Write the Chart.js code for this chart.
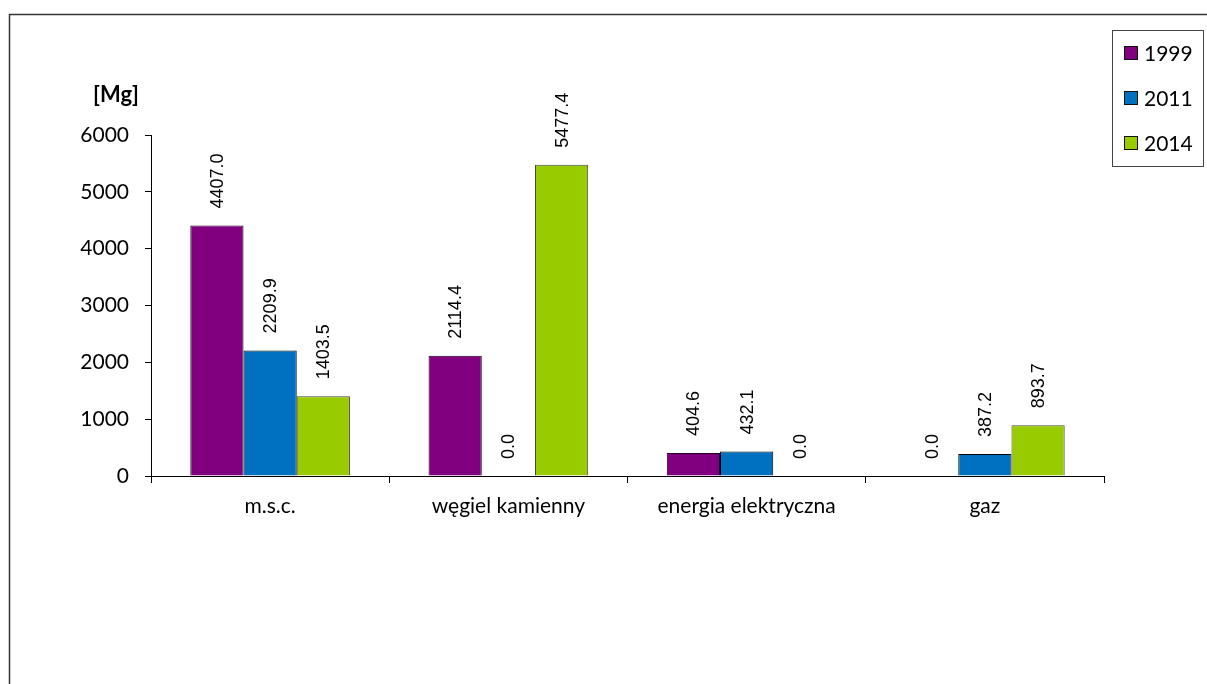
<!DOCTYPE html>
<html>
<head>
<meta charset="utf-8">
<script src="https://cdn.jsdelivr.net/npm/chart.js@4"></script>
<style>
  html, body { margin: 0; padding: 0; background: #fff; }
  #wrap { width: 1207px; height: 684px; }
</style>
</head>
<body>
<div id="wrap"><canvas id="myChart" width="1207" height="684"></canvas></div>
<script>
var categories = ["m.s.c.", "węgiel kamienny", "energia elektryczna", "gaz"];
var years = ["1999", "2011", "2014"];
var values1999 = [4407.0, 2114.4, 404.6, 0.0];
var values2011 = [2209.9, 0.0, 432.1, 387.2];
var values2014 = [1403.5, 5477.4, 0.0, 893.7];
var yTicks = [0, 1000, 2000, 3000, 4000, 5000, 6000];
var colors = ["#800080", "#0070C0", "#99CC00"];

// frame lines, unit label and white background
var framePlugin = {
  id: 'frame',
  beforeDraw: function(chart){
    var c = chart.ctx;
    c.save();
    c.fillStyle = '#fff';
    c.fillRect(0, 0, chart.width, chart.height);
    c.strokeStyle = '#333';
    c.lineWidth = 1.5;
    c.beginPath();
    c.moveTo(9.5, chart.height);
    c.lineTo(9.5, 14.5);
    c.lineTo(chart.width, 14.5);
    c.stroke();
    c.fillStyle = '#000';
    c.font = 'bold 22px Lato';
    c.textAlign = 'center';
    c.textBaseline = 'middle';
    c.fillText('[Mg]', 116, 95);
    c.restore();
  }
};

// vertical value labels over each bar
var valueLabels = {
  id: 'valueLabels',
  afterDatasetsDraw: function(chart){
    var c = chart.ctx;
    c.save();
    c.fillStyle = '#000';
    c.font = '18px "Liberation Sans"';
    c.textAlign = 'left';
    c.textBaseline = 'middle';
    chart.data.datasets.forEach(function(ds, i){
      chart.getDatasetMeta(i).data.forEach(function(bar, j){
        c.save();
        c.translate(bar.x + 1, bar.y - 17);
        c.rotate(-Math.PI / 2);
        c.fillText(ds.data[j].toFixed(1), 0, 0);
        c.restore();
      });
    });
    c.restore();
  }
};

// boxed legend at top right
var boxLegend = {
  id: 'boxLegend',
  afterDraw: function(chart){
    var c = chart.ctx;
    c.save();
    c.strokeStyle = '#444';
    c.lineWidth = 1;
    c.strokeRect(1112.5, 30.5, 91, 136);
    c.font = '21px Lato';
    c.textBaseline = 'middle';
    chart.data.datasets.forEach(function(ds, i){
      var y = 53 + i * 45;
      c.fillStyle = ds.backgroundColor;
      c.fillRect(1124, y - 7, 13, 13);
      c.strokeStyle = '#111';
      c.strokeRect(1124.5, y - 6.5, 13, 13);
      c.fillStyle = '#000';
      c.fillText(ds.label, 1144, y + 1);
    });
    c.restore();
  }
};

var ctx = document.getElementById("myChart");
var myChart = new Chart(ctx, {
  type: 'bar',
  data: {
    labels: categories,
    datasets: [
      { label: years[0], data: values1999, backgroundColor: colors[0], borderColor: '#200020', borderWidth: 1 },
      { label: years[1], data: values2011, backgroundColor: colors[1], borderColor: '#000', borderWidth: 1 },
      { label: years[2], data: values2014, backgroundColor: colors[2], borderColor: '#444', borderWidth: 1 }
    ]
  },
  options: {
    responsive: false,
    animation: false,
    layout: { padding: { left: 51, right: 103, top: 135, bottom: 148 } },
    categoryPercentage: 0.67,
    barPercentage: 1.0,
    plugins: {
      legend: { display: false },
      tooltip: { enabled: false }
    },
    scales: {
      x: {
        afterFit: function(s){ s.height = 60; },
        grid: { display: true, drawOnChartArea: false, offset: true, color: '#000', tickLength: 7 },
        border: { color: '#000', width: 1 },
        ticks: { color: '#000', font: { family: 'Lato', size: 21 }, padding: 11 }
      },
      y: {
        min: 0,
        max: 6000,
        afterFit: function(s){ s.width = 100; },
        afterBuildTicks: function(s){ s.ticks = yTicks.map(function(v){ return { value: v }; }); },
        grid: { display: true, drawOnChartArea: false, color: '#000', tickLength: 6 },
        border: { color: '#000', width: 1 },
        ticks: { color: '#000', font: { family: 'Lato', size: 21 }, padding: 16,
                 callback: function(v){ return String(v); } }
      }
    }
  },
  plugins: [framePlugin, valueLabels, boxLegend]
});
</script>
</body>
</html>
